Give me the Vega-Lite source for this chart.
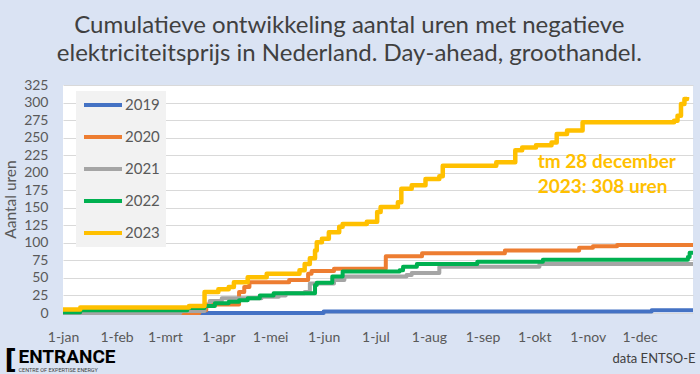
{
  "$schema": "https://vega.github.io/schema/vega-lite/v6.json",
  "width": 630,
  "height": 228,
  "autosize": {"type": "none"},
  "padding": {"left": 63, "top": 85, "right": 7, "bottom": 61},
  "background": "#dae3f3",
  "title": {
    "text": ["Cumulatieve ontwikkeling aantal uren met negatieve", "elektriciteitsprijs in Nederland. Day-ahead, groothandel."],
    "font": "Lato",
    "fontSize": 24,
    "fontWeight": "normal",
    "color": "#404040",
    "anchor": "middle",
    "frame": "bounds",
    "offset": 12,
    "lineHeight": 28
  },
  "config": {
    "font": "Lato",
    "view": {"fill": "white", "stroke": null}
  },
  "datasets": {
    "reeksen": [
      {"jaar": "2019", "datum": "2023-01-01T00:00", "uren": 0},
      {"jaar": "2019", "datum": "2023-06-01T00:00", "uren": 2},
      {"jaar": "2019", "datum": "2023-12-08T00:00", "uren": 4},
      {"jaar": "2019", "datum": "2023-12-31T23:00", "uren": 4},
      {"jaar": "2020", "datum": "2023-01-01T00:00", "uren": 0},
      {"jaar": "2020", "datum": "2023-03-21T00:00", "uren": 4},
      {"jaar": "2020", "datum": "2023-03-25T00:00", "uren": 12},
      {"jaar": "2020", "datum": "2023-04-13T00:00", "uren": 30},
      {"jaar": "2020", "datum": "2023-04-16T00:00", "uren": 37},
      {"jaar": "2020", "datum": "2023-04-19T00:00", "uren": 44},
      {"jaar": "2020", "datum": "2023-05-12T00:00", "uren": 47},
      {"jaar": "2020", "datum": "2023-05-23T00:00", "uren": 56},
      {"jaar": "2020", "datum": "2023-05-25T00:00", "uren": 60},
      {"jaar": "2020", "datum": "2023-06-07T00:00", "uren": 63},
      {"jaar": "2020", "datum": "2023-07-07T00:00", "uren": 81},
      {"jaar": "2020", "datum": "2023-07-28T00:00", "uren": 85},
      {"jaar": "2020", "datum": "2023-09-14T00:00", "uren": 89},
      {"jaar": "2020", "datum": "2023-10-27T00:00", "uren": 93},
      {"jaar": "2020", "datum": "2023-11-04T00:00", "uren": 95},
      {"jaar": "2020", "datum": "2023-11-18T00:00", "uren": 97},
      {"jaar": "2020", "datum": "2023-12-31T23:00", "uren": 97},
      {"jaar": "2021", "datum": "2023-01-01T00:00", "uren": 0},
      {"jaar": "2021", "datum": "2023-03-10T00:00", "uren": 3},
      {"jaar": "2021", "datum": "2023-03-24T00:00", "uren": 10},
      {"jaar": "2021", "datum": "2023-03-27T00:00", "uren": 17},
      {"jaar": "2021", "datum": "2023-04-03T00:00", "uren": 21},
      {"jaar": "2021", "datum": "2023-04-26T00:00", "uren": 23},
      {"jaar": "2021", "datum": "2023-05-06T00:00", "uren": 25},
      {"jaar": "2021", "datum": "2023-05-10T00:00", "uren": 28},
      {"jaar": "2021", "datum": "2023-05-21T00:00", "uren": 30},
      {"jaar": "2021", "datum": "2023-05-24T00:00", "uren": 42},
      {"jaar": "2021", "datum": "2023-06-07T00:00", "uren": 47},
      {"jaar": "2021", "datum": "2023-06-13T00:00", "uren": 52},
      {"jaar": "2021", "datum": "2023-07-19T00:00", "uren": 54},
      {"jaar": "2021", "datum": "2023-07-22T00:00", "uren": 57},
      {"jaar": "2021", "datum": "2023-08-07T00:00", "uren": 66},
      {"jaar": "2021", "datum": "2023-10-04T00:00", "uren": 70},
      {"jaar": "2021", "datum": "2023-12-31T23:00", "uren": 70},
      {"jaar": "2022", "datum": "2023-01-01T00:00", "uren": 1},
      {"jaar": "2022", "datum": "2023-01-11T00:00", "uren": 4},
      {"jaar": "2022", "datum": "2023-03-14T00:00", "uren": 7},
      {"jaar": "2022", "datum": "2023-03-24T00:00", "uren": 10},
      {"jaar": "2022", "datum": "2023-03-30T00:00", "uren": 14},
      {"jaar": "2022", "datum": "2023-04-07T00:00", "uren": 16},
      {"jaar": "2022", "datum": "2023-04-13T00:00", "uren": 18},
      {"jaar": "2022", "datum": "2023-04-18T00:00", "uren": 21},
      {"jaar": "2022", "datum": "2023-04-25T00:00", "uren": 25},
      {"jaar": "2022", "datum": "2023-05-03T00:00", "uren": 28},
      {"jaar": "2022", "datum": "2023-05-27T00:00", "uren": 40},
      {"jaar": "2022", "datum": "2023-05-28T00:00", "uren": 43},
      {"jaar": "2022", "datum": "2023-06-06T00:00", "uren": 52},
      {"jaar": "2022", "datum": "2023-06-12T00:00", "uren": 59},
      {"jaar": "2022", "datum": "2023-07-15T00:00", "uren": 61},
      {"jaar": "2022", "datum": "2023-07-17T00:00", "uren": 66},
      {"jaar": "2022", "datum": "2023-07-25T00:00", "uren": 70},
      {"jaar": "2022", "datum": "2023-08-29T00:00", "uren": 73},
      {"jaar": "2022", "datum": "2023-10-06T00:00", "uren": 76},
      {"jaar": "2022", "datum": "2023-12-29T00:00", "uren": 80},
      {"jaar": "2022", "datum": "2023-12-30T00:00", "uren": 86},
      {"jaar": "2022", "datum": "2023-12-31T23:00", "uren": 86}
    ],
    "reeks2023": [
      {"jaar": "2023", "datum": "2023-01-01T00:00", "uren": 5},
      {"jaar": "2023", "datum": "2023-01-11T00:00", "uren": 8},
      {"jaar": "2023", "datum": "2023-03-15T00:00", "uren": 10},
      {"jaar": "2023", "datum": "2023-03-24T00:00", "uren": 30},
      {"jaar": "2023", "datum": "2023-04-01T00:00", "uren": 34},
      {"jaar": "2023", "datum": "2023-04-07T00:00", "uren": 37},
      {"jaar": "2023", "datum": "2023-04-10T00:00", "uren": 44},
      {"jaar": "2023", "datum": "2023-04-18T00:00", "uren": 51},
      {"jaar": "2023", "datum": "2023-04-29T00:00", "uren": 56},
      {"jaar": "2023", "datum": "2023-05-18T00:00", "uren": 61},
      {"jaar": "2023", "datum": "2023-05-21T00:00", "uren": 70},
      {"jaar": "2023", "datum": "2023-05-24T00:00", "uren": 78},
      {"jaar": "2023", "datum": "2023-05-27T00:00", "uren": 89},
      {"jaar": "2023", "datum": "2023-05-28T00:00", "uren": 101},
      {"jaar": "2023", "datum": "2023-05-31T00:00", "uren": 106},
      {"jaar": "2023", "datum": "2023-06-04T00:00", "uren": 115},
      {"jaar": "2023", "datum": "2023-06-10T00:00", "uren": 123},
      {"jaar": "2023", "datum": "2023-06-12T00:00", "uren": 127},
      {"jaar": "2023", "datum": "2023-06-26T00:00", "uren": 130},
      {"jaar": "2023", "datum": "2023-07-02T00:00", "uren": 144},
      {"jaar": "2023", "datum": "2023-07-04T00:00", "uren": 151},
      {"jaar": "2023", "datum": "2023-07-14T00:00", "uren": 158},
      {"jaar": "2023", "datum": "2023-07-16T00:00", "uren": 177},
      {"jaar": "2023", "datum": "2023-07-22T00:00", "uren": 182},
      {"jaar": "2023", "datum": "2023-07-30T00:00", "uren": 191},
      {"jaar": "2023", "datum": "2023-08-07T00:00", "uren": 195},
      {"jaar": "2023", "datum": "2023-08-09T00:00", "uren": 210},
      {"jaar": "2023", "datum": "2023-09-09T00:00", "uren": 215},
      {"jaar": "2023", "datum": "2023-09-20T00:00", "uren": 232},
      {"jaar": "2023", "datum": "2023-09-24T00:00", "uren": 236},
      {"jaar": "2023", "datum": "2023-10-02T00:00", "uren": 239},
      {"jaar": "2023", "datum": "2023-10-11T00:00", "uren": 243},
      {"jaar": "2023", "datum": "2023-10-14T00:00", "uren": 255},
      {"jaar": "2023", "datum": "2023-10-20T00:00", "uren": 260},
      {"jaar": "2023", "datum": "2023-10-29T00:00", "uren": 272},
      {"jaar": "2023", "datum": "2023-12-21T00:00", "uren": 274},
      {"jaar": "2023", "datum": "2023-12-23T00:00", "uren": 281},
      {"jaar": "2023", "datum": "2023-12-25T00:00", "uren": 298},
      {"jaar": "2023", "datum": "2023-12-27T00:00", "uren": 305},
      {"jaar": "2023", "datum": "2023-12-28T12:00", "uren": 308}
    ]
  },
  "resolve": {"axis": {"x": "independent"}},
  "layer": [
    {
      "data": {"name": "reeksen"},
      "mark": {"type": "line", "interpolate": "step-after", "strokeWidth": 4, "strokeJoin": "round"},
      "encoding": {
        "x": {
          "field": "datum", "type": "temporal",
          "scale": {"domain": [{"year": 2023, "month": 1, "date": 1}, {"year": 2023, "month": 12, "date": 31, "hours": 23}], "nice": false},
          "axis": {
            "orient": "bottom",
            "tickCount": {"interval": "month", "step": 1},
            "labelExpr": "'1-' + ['jan','feb','mrt','apr','mei','jun','jul','aug','sep','okt','nov','dec'][month(datum.value)]",
            "grid": false, "ticks": false, "domain": false,
            "labelPadding": 17, "labelFontSize": 14, "labelColor": "#595959", "labelFont": "Lato",
            "labelFlush": false, "labelOverlap": false,
            "title": "data ENTSO-E", "titleX": 632, "titleY": 45, "titleAlign": "right", "titleBaseline": "middle",
            "titleFont": "Lato", "titleFontSize": 13, "titleFontWeight": "normal", "titleColor": "#404040"
          }
        },
        "y": {
          "field": "uren", "type": "quantitative",
          "scale": {"domain": [0, 325], "nice": false},
          "axis": {
            "values": [0, 25, 50, 75, 100, 125, 150, 175, 200, 225, 250, 275, 300, 325],
            "title": "Aantal uren", "grid": true, "gridColor": "#d9d9d9", "domain": false, "ticks": false,
            "labelPadding": 15, "labelFontSize": 14, "labelColor": "#595959", "labelFont": "Lato",
            "titleFont": "Lato", "titleFontSize": 15.5, "titleFontWeight": "normal", "titleColor": "#595959", "titlePadding": 5
          }
        },
        "color": {
          "field": "jaar", "type": "nominal",
          "scale": {"domain": ["2019", "2020", "2021", "2022", "2023"], "range": ["#4472c4", "#ed7d31", "#a5a5a5", "#00b050", "#ffc000"]},
          "legend": {
            "title": null, "orient": "none", "legendX": 13, "legendY": 6, "direction": "vertical",
            "fillColor": "#f2f2f2", "padding": 6, "symbolType": "stroke", "symbolSize": 1444, "symbolStrokeWidth": 4,
            "labelFontSize": 15, "labelColor": "#595959", "labelFont": "Lato", "rowPadding": 16, "clipHeight": 16, "labelOffset": 1
          }
        }
      }
    },
    {
      "data": {"name": "reeks2023"},
      "mark": {"type": "line", "interpolate": "step-after", "strokeWidth": 4.5, "strokeJoin": "round"},
      "encoding": {
        "x": {
          "field": "datum", "type": "temporal",
          "axis": {
            "orient": "bottom", "labels": false, "grid": false, "ticks": false, "domain": false,
            "title": "[", "titleX": -59, "titleY": 46, "titleAlign": "left", "titleBaseline": "middle",
            "titleFont": "DejaVu Sans", "titleFontSize": 27, "titleFontWeight": "bold", "titleColor": "#000000"
          }
        },
        "y": {
          "field": "uren", "type": "quantitative",
          "axis": {
            "values": [0, 25, 50, 75, 100, 125, 150, 175, 200, 225, 250, 275, 300, 325],
            "title": "Aantal uren", "grid": true, "gridColor": "#d9d9d9", "domain": false, "ticks": false,
            "labelPadding": 15, "labelFontSize": 14, "labelColor": "#595959", "labelFont": "Lato",
            "titleFont": "Lato", "titleFontSize": 15.5, "titleFontWeight": "normal", "titleColor": "#595959", "titlePadding": 5
          }
        },
        "color": {
          "field": "jaar", "type": "nominal",
          "scale": {"domain": ["2019", "2020", "2021", "2022", "2023"], "range": ["#4472c4", "#ed7d31", "#a5a5a5", "#00b050", "#ffc000"]},
          "legend": {
            "title": null, "orient": "none", "legendX": 13, "legendY": 6, "direction": "vertical",
            "fillColor": "#f2f2f2", "padding": 6, "symbolType": "stroke", "symbolSize": 1444, "symbolStrokeWidth": 4,
            "labelFontSize": 15, "labelColor": "#595959", "labelFont": "Lato", "rowPadding": 16, "clipHeight": 16, "labelOffset": 1
          }
        }
      }
    },
    {
      "data": {"values": [{"datum": "2023-10-03T00:00", "uren": 215, "tekst": "tm 28 december"}]},
      "mark": {"type": "text", "align": "left", "baseline": "middle", "font": "Lato", "fontSize": 19, "fontWeight": "bold", "color": "#ffc000"},
      "encoding": {
        "x": {
          "field": "datum", "type": "temporal",
          "axis": {
            "orient": "bottom", "labels": false, "grid": false, "ticks": false, "domain": false,
            "title": "ENTRANCE", "titleX": -45, "titleY": 43, "titleAlign": "left", "titleBaseline": "middle",
            "titleFont": "Roboto", "titleFontSize": 19, "titleFontWeight": "bold", "titleColor": "#000000"
          }
        },
        "y": {
          "field": "uren", "type": "quantitative",
          "axis": {
            "values": [0, 25, 50, 75, 100, 125, 150, 175, 200, 225, 250, 275, 300, 325],
            "title": "Aantal uren", "grid": true, "gridColor": "#d9d9d9", "domain": false, "ticks": false,
            "labelPadding": 15, "labelFontSize": 14, "labelColor": "#595959", "labelFont": "Lato",
            "titleFont": "Lato", "titleFontSize": 15.5, "titleFontWeight": "normal", "titleColor": "#595959", "titlePadding": 5
          }
        },
        "text": {"field": "tekst"}
      }
    },
    {
      "data": {"values": [{"datum": "2023-10-03T00:00", "uren": 180, "tekst": "2023: 308 uren"}]},
      "mark": {"type": "text", "align": "left", "baseline": "middle", "font": "Lato", "fontSize": 19, "fontWeight": "bold", "color": "#ffc000"},
      "encoding": {
        "x": {
          "field": "datum", "type": "temporal",
          "axis": {
            "orient": "bottom", "labels": false, "grid": false, "ticks": false, "domain": false,
            "title": "CENTRE OF EXPERTISE ENERGY", "titleX": -45, "titleY": 56, "titleAlign": "left", "titleBaseline": "middle",
            "titleFont": "Roboto", "titleFontSize": 5.5, "titleFontWeight": "normal", "titleColor": "#404040"
          }
        },
        "y": {
          "field": "uren", "type": "quantitative",
          "axis": {
            "values": [0, 25, 50, 75, 100, 125, 150, 175, 200, 225, 250, 275, 300, 325],
            "title": "Aantal uren", "grid": true, "gridColor": "#d9d9d9", "domain": false, "ticks": false,
            "labelPadding": 15, "labelFontSize": 14, "labelColor": "#595959", "labelFont": "Lato",
            "titleFont": "Lato", "titleFontSize": 15.5, "titleFontWeight": "normal", "titleColor": "#595959", "titlePadding": 5
          }
        },
        "text": {"field": "tekst"}
      }
    }
  ]
}
